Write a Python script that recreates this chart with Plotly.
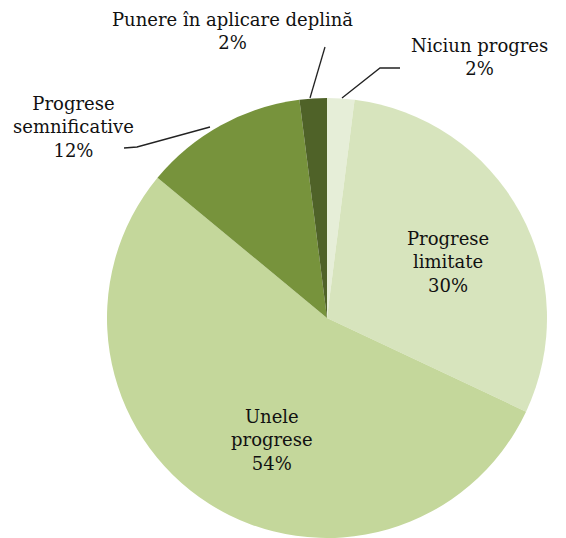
import plotly.graph_objects as go

labels = ["Niciun progres", "Progrese limitate", "Unele progrese",
          "Progrese semnificative", "Punere în aplicare deplină"]
values = [2, 30, 54, 12, 2]
colors = ["#e6eed8", "#d7e4bd", "#c4d79b", "#77933c", "#4f6228"]
display = ["Niciun progres", "Progrese<br>limitate", "Unele<br>progrese",
           "Progrese<br>semnificative", "Punere în aplicare deplină"]
label_pos = [(479, 57), (448, 262), (272, 440), (73, 127), (232, 31)]

OFF = 8  # default page body margin
W, H = 566 - OFF, 538 - OFF
cx, cy, r = 327 - OFF, 318 - OFF, 220


def px(x):
    return (x - OFF) / W


def py(y):
    return 1 - (y - OFF) / H


fig = go.Figure(go.Pie(
    labels=labels, values=values, sort=False, direction="clockwise", rotation=0,
    marker=dict(colors=colors, line=dict(width=0)),
    textinfo="none", hoverinfo="label+percent", showlegend=False,
    domain=dict(x=[(cx - r) / W, (cx + r) / W], y=[1 - (cy + r) / H, 1 - (cy - r) / H]),
))

font = dict(family="DejaVu Serif", size=18, color="#111")
for d, v, (x, y) in zip(display, values, label_pos):
    fig.add_annotation(x=px(x), y=py(y), xref="paper", yref="paper",
                       text=f"{d}<br>{v}%", showarrow=False, font=font,
                       align="center", xanchor="center", yanchor="middle")

leaders = [
    [(342, 98), (380, 68), (400, 68)],
    [(310, 98), (325, 47)],
    [(210, 127), (137, 147), (124, 148)],
]
for pts in leaders:
    path = "M " + " L ".join(f"{px(a)} {py(b)}" for a, b in pts)
    fig.add_shape(type="path", path=path, xref="paper", yref="paper",
                  line=dict(color="#222", width=1.3))

fig.update_layout(width=W, height=H, margin=dict(l=0, r=0, t=0, b=0),
                  paper_bgcolor="white", plot_bgcolor="white")
fig.write_html("out.html")
